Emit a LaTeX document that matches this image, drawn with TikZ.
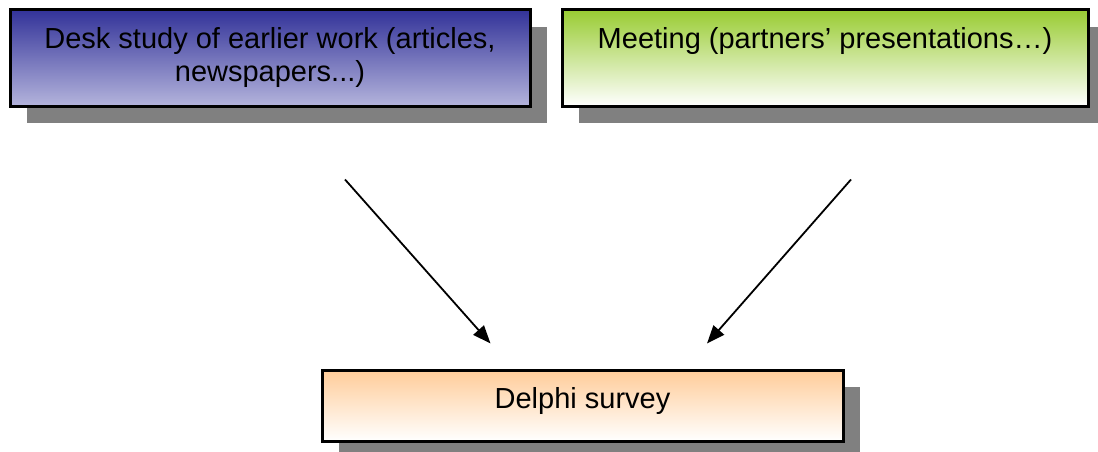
\documentclass[tikz,border=0pt]{standalone}
\usepackage{fontspec}
\setmainfont{Liberation Sans}
\usetikzlibrary{arrows.meta,shadows,calc}
\definecolor{shadowgray}{HTML}{808080}
\definecolor{deskTop}{HTML}{333399}
\definecolor{deskMid}{HTML}{9292C6}
\definecolor{deskBot}{HTML}{B4B4DC}
\definecolor{meetTop}{HTML}{99CC33}
\definecolor{meetMid}{HTML}{D6EBB8}
\definecolor{delTop}{HTML}{FFCC99}
\definecolor{delMid}{HTML}{FFE6CF}
\tikzset{
  box/.style={draw=black, line width=3pt, rectangle, inner sep=0pt,
    drop shadow={shadow xshift=17pt, shadow yshift=-17pt, fill=shadowgray, opacity=1}},
  boxtext/.style={font=\fontsize{29}{33.5}\selectfont, align=center, inner sep=0pt, anchor=base},
  conn/.style={line width=1.8pt, -{Triangle[length=18pt,width=14pt]}}
}
\begin{document}
\begin{tikzpicture}[x=1pt,y=-1pt]
\useasboundingbox (0,0) rectangle (1098,452);
\node[box, top color=deskTop, middle color=deskMid, bottom color=deskBot, minimum width=520pt, minimum height=96pt] (desk) at (270,58) {};
\node[box, top color=meetTop, middle color=meetMid, bottom color=white, minimum width=526pt, minimum height=96pt] (meet) at (825,58) {};
\node[box, top color=delTop, middle color=delMid, bottom color=white, minimum width=521pt, minimum height=71pt] (delphi) at (582.5,405.5) {};
\node[boxtext] (desktext) at (270,81.7) {Desk study of earlier work (articles,\\newspapers...)};
\node[boxtext] (meettext) at (825,48.3) {Meeting (partners’ presentations…)};
\node[boxtext] (deltext) at (582.5,408.3) {Delphi survey};
\coordinate (a1s) at ($(desk.south)+(75,72)$);
\coordinate (a1e) at ($(delphi.north)+(-92,-25)$);
\coordinate (a2s) at ($(meet.south)+(26,72)$);
\coordinate (a2e) at ($(delphi.north)+(124.5,-25)$);
\draw[conn] (a1s) -- (a1e);
\draw[conn] (a2s) -- (a2e);
\end{tikzpicture}
\end{document}
